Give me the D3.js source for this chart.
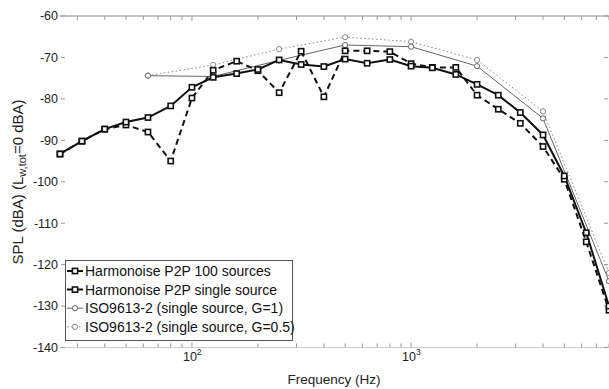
<!DOCTYPE html>
<html><head><meta charset="utf-8">
<script src="https://cdn.jsdelivr.net/npm/d3@7"></script>
<style>
html,body{margin:0;padding:0;background:#fff;}
svg{display:block;font-family:"Liberation Sans",Arial,Helvetica,sans-serif;}
</style></head>
<body>
<svg id="chart" width="609" height="389"></svg>
<script>
const freqs = [25,31.5,40,50,63,80,100,125,160,200,250,315,400,500,630,800,1000,1250,1600,2000,2500,3150,4000,5000,6300,8000];
const harm100 = [-93.3,-90.2,-87.3,-85.6,-84.5,-81.7,-77.2,-74.8,-73.9,-72.9,-70.6,-71.7,-72.2,-70.4,-71.4,-70.5,-72.1,-72.5,-74.1,-76.5,-79.1,-83.3,-88.7,-98.6,-112.3,-130.0];
const harmSingle = [-93.3,-90.2,-87.3,-86.3,-88.0,-95.0,-79.8,-73.1,-70.9,-73.2,-78.5,-68.5,-79.5,-68.4,-68.4,-68.6,-71.5,-72.4,-72.4,-79.1,-82.5,-85.9,-91.5,-99.4,-114.5,-131.0];
const isoFreqs = [63,125,250,500,1000,2000,4000,8000];
const isoG1 = [-74.4,-74.6,-70.7,-67.0,-67.4,-72.1,-84.7,-124.0];
const isoG05 = [-74.4,-71.8,-68.0,-65.1,-66.2,-70.6,-83.0,-122.0];
const yTicks = [-60,-70,-80,-90,-100,-110,-120,-130,-140];
const xMajor = [100,1000];
const xMinor = [30,40,50,60,70,80,90,200,300,400,500,600,700,800,900,2000,3000,4000,5000,6000,7000,8000];
const legendLabels = ["Harmonoise P2P 100 sources","Harmonoise P2P single source","ISO9613-2 (single source, G=1)","ISO9613-2 (single source, G=0.5)"];

const L=60, R=609, T=16, B=347.5;
const x = d3.scaleLog().domain([25,8000]).range([L,R]);
const y = d3.scaleLinear().domain([-140,-60]).range([B,T]);
const svg = d3.select("#chart");

// frame
svg.append("line").attr("x1",L).attr("x2",R).attr("y1",T).attr("y2",T).attr("stroke","#888").attr("stroke-width",1);
svg.append("line").attr("x1",L).attr("x2",R).attr("y1",B).attr("y2",B).attr("stroke","#ccc").attr("stroke-width",1);

// x ticks
const allX = xMajor.concat(xMinor);
allX.forEach(f=>{
  const len = xMajor.includes(f)?5:4;
  svg.append("line").attr("x1",x(f)).attr("x2",x(f)).attr("y1",B).attr("y2",B-len).attr("stroke","#999");
  svg.append("line").attr("x1",x(f)).attr("x2",x(f)).attr("y1",T).attr("y2",T+len).attr("stroke","#999");
});
// y ticks
yTicks.forEach(v=>{
  svg.append("line").attr("x1",L+1).attr("x2",L+5).attr("y1",y(v)).attr("y2",y(v)).attr("stroke","#999");
  svg.append("line").attr("x1",R-1).attr("x2",R-5).attr("y1",y(v)).attr("y2",y(v)).attr("stroke","#999");
  svg.append("text").attr("x",L-2).attr("y",y(v)).attr("dy","0.35em").attr("text-anchor","end")
    .attr("font-size",12.5).attr("fill","#222").text(v);
});
// x labels 10^n
xMajor.forEach(f=>{
  const t = svg.append("text").attr("x",x(f)-9).attr("y",361).attr("font-size",12.5).attr("fill","#222");
  t.append("tspan").text("10");
  t.append("tspan").attr("dy",-6).attr("font-size",8.5).text(Math.round(Math.log10(f)));
});
svg.append("text").attr("x",334).attr("y",384).attr("text-anchor","middle").attr("font-size",13.5).attr("fill","#222").text("Frequency (Hz)");
const yl = svg.append("text").attr("transform","translate(23,182) rotate(-90)").attr("text-anchor","middle").attr("font-size",15).attr("fill","#222");
yl.append("tspan").text("SPL (dBA) (L");
yl.append("tspan").attr("dy",3).attr("font-size",11).text("w,tot");
yl.append("tspan").attr("dy",-3).text("=0 dBA)");

// series
const series = [
  {fx:freqs, vals:harm100, color:"#111", width:2, dash:null, marker:"sq"},
  {fx:freqs, vals:harmSingle, color:"#111", width:2, dash:"6,4", marker:"sq"},
  {fx:isoFreqs, vals:isoG1, color:"#666", width:1, dash:null, marker:"ci"},
  {fx:isoFreqs, vals:isoG05, color:"#888", width:1, dash:"1.5,2.5", marker:"ci"}
];
const line = d3.line().x(d=>x(d[0])).y(d=>y(d[1]));
function drawMarker(g, cx, cy, s){
  if(s.marker==="sq"){
    g.append("rect").attr("x",cx-2.6).attr("y",cy-2.6).attr("width",5.2).attr("height",5.2)
      .attr("fill","#fff").attr("stroke","#111").attr("stroke-width",1.6);
  } else {
    g.append("circle").attr("cx",cx).attr("cy",cy).attr("r",2.6)
      .attr("fill","#fff").attr("stroke",s.color).attr("stroke-width",1);
  }
}
const order=[3,2,1,0];
order.forEach(i=>{
  const s=series[i];
  const pts = s.fx.map((f,k)=>[f,s.vals[k]]);
  svg.append("path").attr("d",line(pts)).attr("fill","none").attr("stroke",s.color)
    .attr("stroke-width",s.width).attr("stroke-dasharray",s.dash);
});
order.forEach(i=>{
  const s=series[i];
  const g=svg.append("g");
  s.fx.forEach((f,k)=>drawMarker(g,x(f),y(s.vals[k]),s));
});

// legend
const lg = svg.append("g");
lg.append("rect").attr("x",65.5).attr("y",260.5).attr("width",227).attr("height",80)
  .attr("fill","#fff").attr("stroke","#555").attr("stroke-width",1);
legendLabels.forEach((lab,i)=>{
  const s=series[i];
  const cy = 271 + i*18.6;
  lg.append("line").attr("x1",67).attr("x2",83).attr("y1",cy).attr("y2",cy).attr("stroke",s.color)
    .attr("stroke-width",s.width).attr("stroke-dasharray",s.dash);
  drawMarker(lg,75,cy,s);
  lg.append("text").attr("x",85).attr("y",cy).attr("dy","0.36em").attr("font-size",14).attr("fill","#111").text(lab);
});
</script>
</body></html>
